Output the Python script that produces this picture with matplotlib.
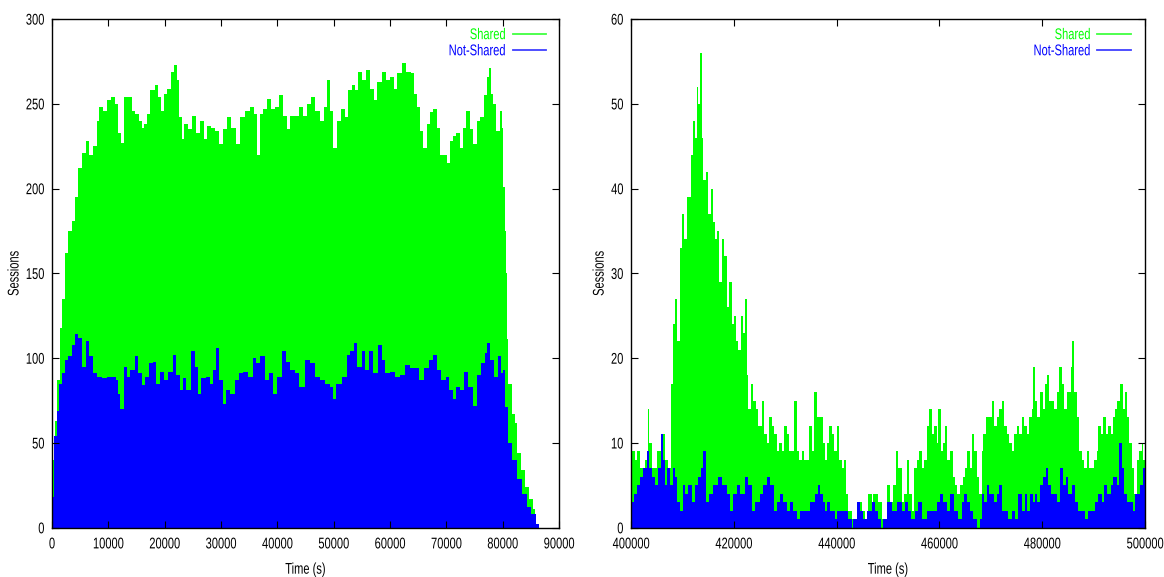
import matplotlib
matplotlib.use('Agg')
import matplotlib.pyplot as plt
from matplotlib.lines import Line2D
from matplotlib.patheffects import AbstractPathEffect
from matplotlib.transforms import Affine2D

plt.rcParams['font.family'] = ['Liberation Sans', 'DejaVu Sans']

GREEN = '#00ff00'
BLUE = '#0000ff'

# ---- left panel: day 1 (time in s) ----
day_shared_t = [0, 530, 830, 1420, 1830, 2300, 2900, 3470, 4070, 4660, 5260, 6030, 6620, 7220, 7930,
                8400, 9130, 9840, 10500, 11200, 11800, 12200, 12800, 13600, 14200, 14800, 15400, 16000,
                16400, 16900, 17400, 18250, 18800, 19300, 19900, 20500, 21100, 21700, 22200, 22600,
                23000, 23400, 24100, 24900, 25500, 26300, 27000, 27600, 28200, 28900, 29700, 30300,
                31000, 31700, 32600, 33400, 34300, 35100, 35800, 36400, 36900, 37500, 38200, 38800,
                39500, 40300, 41000, 41700, 42300, 43000, 43800, 44500, 45200, 45900, 46700, 47500,
                48200, 48800, 49400, 49900, 50600, 51300, 52000, 52600, 53200, 53800, 54400, 55000,
                55700, 56500, 57200, 57700, 58500, 59300, 60000, 60700, 61300, 62100, 62800, 63700,
                64300, 64800, 65400, 65900, 66500, 67100, 67700, 68300, 68900, 69500, 70100, 70700,
                71200, 71800, 72400, 73000, 73500, 74200, 74800, 75400, 76000, 76700, 77200, 77500,
                77900, 78300, 78900, 79500, 79800, 80100, 80400, 80600, 80800, 81000, 81600, 82200,
                82600, 83200, 84000, 84600, 85300, 85700, 86000]
day_shared = [40, 63, 87, 118, 135, 162, 175, 181, 195, 212, 221, 228, 220, 225, 240,
              248, 246, 252, 254, 250, 233, 227, 254, 254, 246, 244, 240, 236,
              238, 244, 258, 261, 254, 246, 256, 259, 269, 273, 264, 242,
              229, 238, 235, 243, 233, 240, 229, 237, 236, 234, 226, 235,
              242, 236, 226, 242, 246, 248, 244, 220, 244, 247, 253, 247,
              248, 255, 243, 235, 243, 243, 248, 243, 250, 254, 246, 240,
              248, 264, 246, 224, 240, 247, 242, 258, 261, 258, 269, 264,
              270, 259, 252, 263, 269, 264, 266, 259, 268, 274, 269, 268,
              256, 248, 234, 224, 238, 245, 247, 236, 220, 220, 215, 228,
              231, 233, 224, 236, 246, 235, 226, 240, 242, 255, 266, 271,
              256, 250, 234, 246, 236, 201, 175, 150, 111, 85, 67, 62,
              44, 34, 24, 17, 11, 8, 0]

day_notshared_t = [0, 300, 830, 1240, 1830, 2300, 2900, 3470, 4070, 4660, 5260, 6030, 6620, 7220,
                   7930, 8800, 9700, 10500, 11300, 11700, 12100, 12700, 13300, 13900, 14700, 15300,
                   15900, 16500, 17200, 17900, 18500, 19200, 19800, 20600, 21400, 22000, 22700,
                   23200, 23800, 24700, 25300, 25900, 26500, 27400, 28100, 28600, 29200, 29700,
                   30300, 30900, 31600, 32400, 33200, 33900, 34800, 35700, 36300, 37000, 37800,
                   38600, 39300, 40000, 40800, 41500, 42300, 43100, 43900, 44900, 45800, 46700,
                   47600, 48400, 49300, 49800, 50500, 51400, 52300, 52900, 53600, 54200, 55000,
                   55600, 56200, 57000, 57900, 58500, 59100, 60000, 60800, 61700, 62600, 63500,
                   64300, 65200, 66100, 67000, 67700, 68300, 69000, 69900, 70500, 71100, 71700,
                   72400, 73100, 73900, 74700, 75400, 76200, 76800, 77200, 77800, 78500, 79200,
                   79700, 80100, 80400, 81000, 81600, 82500, 83400, 84300, 85100, 86000, 86500]
day_notshared = [18, 54, 69, 85, 91, 99, 101, 108, 114, 112, 95, 110, 101, 91,
                 89, 88, 89, 89, 87, 79, 70, 95, 89, 93, 101, 91,
                 84, 89, 97, 98, 85, 92, 87, 92, 102, 90, 81,
                 88, 81, 104, 95, 79, 88, 89, 85, 93, 106, 87,
                 73, 81, 79, 87, 91, 92, 89, 100, 97, 101, 87,
                 91, 79, 89, 104, 98, 93, 91, 83, 99, 97, 89,
                 87, 85, 83, 76, 85, 89, 102, 104, 109, 95, 104,
                 93, 104, 91, 108, 99, 91, 92, 89, 90, 96, 94,
                 94, 87, 94, 99, 102, 93, 87, 89, 81, 76, 83,
                 81, 92, 83, 72, 90, 97, 103, 109, 99, 89, 101,
                 91, 93, 71, 50, 40, 29, 20, 12, 8, 2, 0]

# ---- right panel: later window (time in s) ----
win_shared_t = [400130, 400780, 401230, 401750, 402730, 403250, 403570, 404020, 405000, 405970,
                406620, 407270, 407720, 408110, 408570, 409020, 409540, 409990, 410380, 410840,
                411360, 411750, 412140, 412460, 412790, 413110, 413430, 413760, 414080, 414600,
                415060, 415510, 415900, 416350, 416810, 417200, 417650, 418110, 418630, 419150,
                419600, 420050, 420440, 420900, 421350, 421870, 422130, 422520, 422840, 423300,
                423820, 424340, 424790, 425440, 425900, 426410, 426930, 427390, 427840, 428360,
                428880, 429330, 429790, 430310, 430830, 431280, 431740, 432260, 432770, 433230,
                433680, 434200, 434660, 435180, 435700, 436150, 436450, 436900, 437290, 437740,
                438200, 438590, 439040, 439490, 440010, 440530, 440990, 441440, 441830, 442280,
                442930, 443580, 444230, 444880, 445530, 446170, 446820, 447150, 447670, 448120,
                448770, 449420, 449870, 450390, 451040, 451560, 452010, 452660, 453110, 453630,
                454150, 454600, 455060, 455580, 456100, 456550, 457000, 457520, 458040, 458500,
                458950, 459470, 459790, 460250, 460770, 461090, 461540, 462060, 462580, 463030,
                463490, 464010, 464530, 464980, 465430, 465950, 466340, 466730, 467250, 467770,
                468220, 468550, 469070, 469710, 470170, 470620, 471140, 471660, 472120, 472570,
                473090, 473540, 474060, 474510, 475030, 475550, 476010, 476460, 476980, 477500,
                477950, 478280, 478600, 479050, 479570, 480090, 480550, 480870, 481390, 481840,
                482300, 482820, 483330, 483790, 484240, 484760, 485280, 485540, 485800, 486190,
                486710, 487230, 487680, 488130, 488650, 489170, 489620, 490080, 490600, 490920,
                491380, 491890, 492410, 492870, 493320, 493710, 494160, 494620, 495140, 495660,
                496110, 496560, 496950, 497410, 497860, 498380, 498900, 499350, 499680, 500000]
win_shared = [9, 8, 9, 7, 8, 14, 10, 7, 9, 11,
              8, 7, 17, 24, 27, 22, 33, 37, 34, 39,
              39, 44, 48, 46, 52, 50, 56, 46, 41, 42,
              37, 40, 36, 34, 35, 29, 34, 32, 26, 29,
              24, 25, 22, 21, 25, 23, 27, 18, 14, 17,
              15, 14, 12, 15, 11, 10, 13, 12, 11, 9,
              10, 9, 12, 11, 9, 9, 15, 9, 8, 9,
              8, 8, 12, 9, 16, 13, 13, 13, 10, 8,
              10, 12, 11, 9, 12, 8, 7, 8, 4, 2,
              1, 1, 3, 2, 1, 4, 3, 4, 4, 3,
              1, 1, 5, 3, 5, 9, 7, 3, 4, 8,
              4, 2, 7, 8, 9, 7, 8, 12, 14, 11,
              12, 10, 14, 9, 10, 12, 8, 9, 6, 5,
              4, 5, 6, 7, 9, 7, 11, 9, 6, 4,
              9, 11, 13, 13, 15, 12, 13, 14, 15, 12,
              11, 10, 9, 11, 12, 11, 13, 12, 11, 13,
              14, 19, 15, 13, 16, 14, 17, 18, 15, 15,
              14, 16, 19, 17, 14, 16, 16, 19, 22, 16,
              13, 9, 8, 7, 9, 7, 7, 8, 9, 12,
              11, 13, 11, 12, 11, 13, 14, 15, 17, 14,
              16, 13, 10, 7, 4, 8, 9, 10, 8, 14]

win_notshared_t = [400130, 400580, 401230, 401750, 402400, 403050, 403570, 404020, 404670, 405320,
                   405780, 406170, 406620, 407070, 407590, 408110, 408570, 409020, 409540, 410060,
                   410510, 411160, 411810, 412460, 413110, 413560, 414080, 414600, 415250, 416030,
                   417000, 417650, 418630, 419280, 419920, 420570, 421220, 422200, 422840, 423490,
                   424140, 425120, 425770, 426410, 427060, 427840, 428360, 429010, 429660, 430310,
                   430960, 431610, 432260, 432900, 433880, 434850, 435820, 436320, 436770, 437290,
                   437740, 438200, 438720, 439230, 439690, 440140, 440990, 441830, 442280, 442930,
                   443260, 443900, 444550, 445200, 445850, 446820, 447470, 448120, 448570, 449090,
                   449870, 450710, 451690, 452660, 453310, 453960, 454410, 455250, 455900, 456550,
                   457520, 458500, 459470, 460120, 460770, 461410, 462060, 462840, 463680, 464330,
                   464790, 465430, 465950, 466600, 467250, 467900, 468220, 468680, 469200, 469720,
                   470170, 470620, 471140, 471660, 472120, 472760, 473410, 474060, 474710, 475360,
                   476010, 476650, 477110, 477630, 478150, 478600, 479050, 479570, 480220, 480740,
                   481190, 481650, 482170, 482820, 483460, 483980, 484630, 485090, 485730, 486380,
                   487030, 487680, 488330, 488980, 489620, 490270, 490920, 491570, 492020, 492670,
                   493320, 493840, 494490, 495010, 495460, 495920, 496430, 497080, 497600, 498060,
                   498510, 499030, 499550, 500000]
win_notshared = [3, 4, 5, 6, 7, 9, 7, 6, 5, 7,
                 11, 8, 5, 7, 5, 7, 6, 3, 2, 5,
                 4, 5, 3, 5, 6, 7, 9, 3, 4, 5,
                 6, 5, 4, 2, 4, 5, 4, 6, 5, 2,
                 3, 4, 5, 6, 5, 2, 3, 4, 3, 2,
                 3, 2, 1, 2, 2, 3, 4, 5, 4, 3,
                 2, 3, 2, 2, 1, 2, 2, 2, 1, 0,
                 1, 3, 2, 1, 2, 3, 2, 1, 0, 1,
                 3, 2, 3, 2, 3, 2, 1, 2, 3, 1,
                 2, 2, 3, 4, 3, 2, 4, 2, 1, 3,
                 4, 3, 2, 1, 0, 1, 4, 3, 5, 4,
                 4, 3, 4, 5, 2, 2, 1, 2, 1, 4,
                 2, 4, 2, 4, 3, 4, 3, 5, 6, 7,
                 5, 4, 4, 3, 7, 5, 6, 4, 5, 3,
                 2, 2, 1, 2, 2, 3, 4, 3, 5, 4,
                 5, 6, 5, 10, 7, 4, 3, 3, 2, 4,
                 4, 5, 7, 8]

FS = 8


class Tall(AbstractPathEffect):
    # gnuplot's font looks narrow: stretch glyphs vertically about the cap middle
    def __init__(self, sy=1.4):
        super().__init__()
        self.sy = sy

    def draw_path(self, renderer, gc, tpath, affine, rgbFace=None):
        stretch = Affine2D().translate(0, -36).scale(1, self.sy).translate(0, 36)
        renderer.draw_path(gc, tpath, stretch + affine, rgbFace)


def draw(ax, t1, v1, t2, v2, xlim, ylim, xstep, ystep, leg_x):
    ax.fill_between(t1, v1, step='post', color=GREEN, linewidth=0)
    ax.fill_between(t2, v2, step='post', color=BLUE, linewidth=0)
    ax.set_xlim(*xlim)
    ax.set_ylim(*ylim)
    ax.set_xticks(range(xlim[0], xlim[1] + 1, xstep))
    ax.set_yticks(range(ylim[0], ylim[1] + 1, ystep))
    ax.tick_params(direction='in', top=True, right=True, length=5, width=0.8,
                   labelsize=FS)
    ax.tick_params(axis='x', pad=8)
    ax.tick_params(axis='y', pad=5.5)
    for s in ax.spines.values():
        s.set_linewidth(1.0)
    ax.set_xlabel('Time (s)', fontsize=FS, labelpad=11)
    ax.set_ylabel('Sessions', fontsize=FS, labelpad=5)
    handles = [Line2D([], [], color=GREEN, lw=1.3, alpha=0.75),
               Line2D([], [], color=BLUE, lw=1.3, alpha=0.75)]
    leg = ax.legend(handles, ['Shared', 'Not-Shared'], loc='upper right',
                    bbox_to_anchor=(leg_x, 0.988), frameon=False,
                    markerfirst=False, labelcolor=[GREEN, BLUE], fontsize=FS,
                    handlelength=3.0, handletextpad=0.6, labelspacing=0.55,
                    borderaxespad=0.0, borderpad=0.4)
    texts = (ax.get_xticklabels() + ax.get_yticklabels() + leg.get_texts()
             + [ax.xaxis.label, ax.yaxis.label])
    for t in texts:
        t.set_path_effects([Tall()])


fig = plt.figure(figsize=(11.64, 5.77), dpi=100)
ax1 = fig.add_axes([52 / 1164, 1 - 527.7 / 577, 507 / 1164, 508.7 / 577])
ax2 = fig.add_axes([631 / 1164, 1 - 527.7 / 577, 514 / 1164, 508.7 / 577])

draw(ax1, day_shared_t, day_shared, day_notshared_t, day_notshared,
     (0, 90000), (0, 300), 10000, 50, 0.983)
draw(ax2, win_shared_t, win_shared, win_notshared_t, win_notshared,
     (400000, 500000), (0, 60), 20000, 10, 0.981)

fig.savefig('out.png', dpi=100)
